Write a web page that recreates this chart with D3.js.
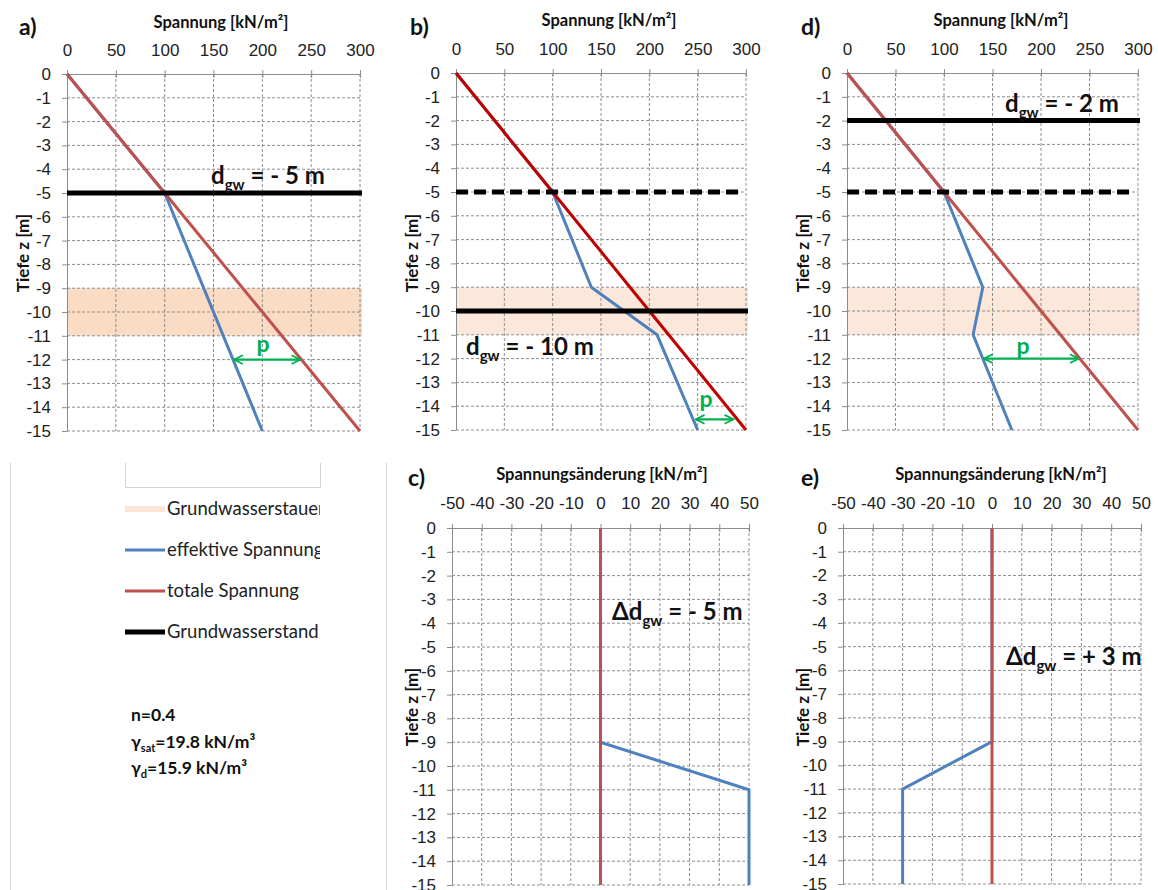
<!DOCTYPE html>
<html>
<head>
<meta charset="utf-8">
<script src="https://cdn.jsdelivr.net/npm/d3@7"></script>
<style>
  body { margin: 0; background: #fff; }
  svg { display: block; font-family: Lato, "Open Sans", sans-serif; }
  .tick text { font-size: 17px; fill: #222; }
</style>
</head>
<body>
<svg id="chart" width="1158" height="890"></svg>
<script>
// ---- data ----
var depthTicks = [0, -1, -2, -3, -4, -5, -6, -7, -8, -9, -10, -11, -12, -13, -14, -15];
var stressTicks = [0, 50, 100, 150, 200, 250, 300];
var changeTicks = [-50, -40, -30, -20, -10, 0, 10, 20, 30, 40, 50];

// a) dgw = -5 m
var depthA = [0, -5, -15];
var totalA = [0, 100, 300];
var effA = [0, 100, 200];
// b) dgw = -10 m
var depthB = [0, -5, -9, -11, -15];
var totalB = [0, 100, 180, 220, 300];
var effB = [0, 100, 140, 208, 250];
// d) dgw = -2 m
var depthD = [0, -5, -9, -11, -15];
var totalD = [0, 100, 180, 220, 300];
var effD = [0, 100, 140, 130, 170];
// c) / e) change of stress
var depthCE = [0, -9, -11, -15];
var dTotalC = [0, 0, 0, 0];
var dEffC = [0, 0, 50, 50];
var dTotalE = [0, 0, 0, 0];
var dEffE = [0, 0, -30, -30];

var aquitard = [-9, -11];            // Grundwasserstauer
var gwSolid = { a: -5, b: -10, d: -2 };
var gwOld = { b: -5, d: -5 };
// p arrows: [depth, from, to]
var arrowA = [-12, 170, 240];
var arrowB = [-14.55, 247, 288];
var arrowD = [-12, 140, 240];

var blue = "#4F81BD", red = "#C0504D", darkRed = "#C00000", green = "#00B050";
var gridCol = "#8c8c8c";

var svg = d3.select("#chart");

var defs = svg.append("defs");
defs.append("marker")
    .attr("id", "chev")
    .attr("viewBox", "0 0 10 10")
    .attr("refX", 9).attr("refY", 5)
    .attr("markerWidth", 5).attr("markerHeight", 5)
    .attr("markerUnits", "strokeWidth")
    .attr("orient", "auto-start-reverse")
    .append("path")
    .attr("d", "M1,1 L9,5 L1,9")
    .attr("fill", "none")
    .attr("stroke", green)
    .attr("stroke-width", 1.6);
defs.append("clipPath").attr("id", "legclip")
    .append("rect").attr("x", 0).attr("y", 440).attr("width", 320).attr("height", 220);

function zip(xs, ys) { return xs.map(function (v, i) { return [v, ys[i]]; }); }
function fmt(d) { return String(d); }   // plain hyphen minus like the original

function panel(o) {
    var x = d3.scaleLinear().domain(o.xdom).range(o.xr);
    var y = d3.scaleLinear().domain([0, -15]).range(o.yr);
    var g = svg.append("g");

    // aquitard band
    if (o.band) {
        g.append("rect")
            .attr("x", x(o.xdom[0])).attr("width", x(o.xdom[1]) - x(o.xdom[0]) + 2)
            .attr("y", y(aquitard[0])).attr("height", y(aquitard[1]) - y(aquitard[0]))
            .attr("fill", o.band);
    }

    // grid
    g.selectAll(".vg").data(o.xticks.slice(1)).enter().append("line")
        .attr("x1", function (d) { return x(d); }).attr("x2", function (d) { return x(d); })
        .attr("y1", o.yr[0]).attr("y2", o.yr[1])
        .attr("stroke", gridCol).attr("stroke-width", 1).attr("stroke-dasharray", "3,2");
    g.selectAll(".hg").data(depthTicks.slice(1)).enter().append("line")
        .attr("x1", o.xr[0]).attr("x2", o.xr[1])
        .attr("y1", function (d) { return y(d); }).attr("y2", function (d) { return y(d); })
        .attr("stroke", gridCol).attr("stroke-width", 1).attr("stroke-dasharray", "3,2");

    // axes
    var ya = g.append("g").attr("transform", "translate(" + o.xr[0] + ",0)")
        .call(d3.axisLeft(y).tickValues(depthTicks).tickSize(5).tickSizeOuter(0).tickPadding(11).tickFormat(fmt));
    ya.select(".domain").attr("stroke", gridCol);
    ya.selectAll(".tick line").attr("stroke", gridCol);
    var xa = g.append("g").attr("transform", "translate(0," + o.yr[0] + ")")
        .call(d3.axisTop(x).tickValues(o.xticks).tickSize(4).tickSizeOuter(0).tickPadding(14).tickFormat(fmt));
    xa.select(".domain").attr("stroke", gridCol);
    xa.selectAll(".tick line").attr("stroke", gridCol).attr("y2", 4).attr("y1", -4);
    xa.selectAll(".tick text").attr("dy", "0.35em").attr("y", o.xlabY - o.yr[0]);

    // lines
    var line = d3.line().x(function (d) { return x(d[0]); }).y(function (d) { return y(d[1]); });
    g.append("path").datum(zip(o.eff, o.depth)).attr("d", line)
        .attr("fill", "none").attr("stroke", blue).attr("stroke-width", 3).attr("stroke-linejoin", "round");
    g.append("path").datum(zip(o.total, o.depth)).attr("d", line)
        .attr("fill", "none").attr("stroke", o.red).attr("stroke-width", 3);

    // groundwater levels
    if (o.gwOld !== undefined) {
        g.append("line").attr("x1", o.xr[0]).attr("x2", o.xr[1] - 4)
            .attr("y1", y(o.gwOld)).attr("y2", y(o.gwOld))
            .attr("stroke", "#000").attr("stroke-width", 5).attr("stroke-dasharray", "12,6");
    }
    if (o.gw !== undefined) {
        g.append("line").attr("x1", o.xr[0]).attr("x2", o.xr[1] + 2)
            .attr("y1", y(o.gw)).attr("y2", y(o.gw))
            .attr("stroke", "#000").attr("stroke-width", 5);
    }

    // p arrow
    if (o.arrow) {
        g.append("line")
            .attr("x1", x(o.arrow[1]) + 1).attr("x2", x(o.arrow[2]) - 1)
            .attr("y1", y(o.arrow[0])).attr("y2", y(o.arrow[0]))
            .attr("stroke", green).attr("stroke-width", 2.2)
            .attr("marker-start", "url(#chev)").attr("marker-end", "url(#chev)");
        g.append("text").attr("x", o.pPos[0]).attr("y", o.pPos[1])
            .attr("text-anchor", "middle").attr("font-size", 23).attr("font-weight", "bold")
            .attr("fill", green).text("p");
    }

    // titles
    g.append("text").attr("x", o.titlePos[0]).attr("y", o.titlePos[1])
        .attr("text-anchor", "middle").attr("font-size", 16.5).attr("font-weight", "bold")
        .attr("fill", "#111").text(o.title);
    g.append("text").attr("x", o.letterPos[0]).attr("y", o.letterPos[1])
        .attr("font-size", 23).attr("font-weight", "bold").attr("fill", "#111").text(o.letter);
    g.append("text")
        .attr("transform", "translate(" + o.ytitle[0] + "," + o.ytitle[1] + ") rotate(-90)")
        .attr("text-anchor", "middle").attr("dy", "0.35em")
        .attr("font-size", 17).attr("font-weight", "bold").attr("fill", "#111").text("Tiefe z [m]");

    // dgw label
    var t = g.append("text").attr("x", o.lab[0]).attr("y", o.lab[1])
        .attr("font-size", 24).attr("font-weight", "bold").attr("fill", "#111");
    t.append("tspan").text(o.labPre);
    t.append("tspan").attr("font-size", 15).attr("dy", 6).text("gw");
    t.append("tspan").attr("dy", -6).text(o.labPost);
}

panel({ xdom: [0, 300], xr: [67, 360], yr: [74, 431], xticks: stressTicks, xlabY: 50,
    depth: depthA, total: totalA, eff: effA, red: red, band: "#FADCC4",
    gw: gwSolid.a, arrow: arrowA, pPos: [263, 352],
    title: "Spannung [kN/m²]", titlePos: [221, 28], letter: "a)", letterPos: [19, 35], ytitle: [23, 253],
    lab: [211, 184], labPre: "d", labPost: " = - 5 m" });

panel({ xdom: [0, 300], xr: [456, 746], yr: [73, 430], xticks: stressTicks, xlabY: 49,
    depth: depthB, total: totalB, eff: effB, red: darkRed, band: "#FCE8DA",
    gw: gwSolid.b, gwOld: gwOld.b, arrow: arrowB, pPos: [706, 407],
    title: "Spannung [kN/m²]", titlePos: [609, 26], letter: "b)", letterPos: [410, 35], ytitle: [412, 253],
    lab: [466, 355], labPre: "d", labPost: " = - 10 m" });

panel({ xdom: [0, 300], xr: [847, 1138], yr: [73, 430], xticks: stressTicks, xlabY: 49,
    depth: depthD, total: totalD, eff: effD, red: red, band: "#FCE8DA",
    gw: gwSolid.d, gwOld: gwOld.d, arrow: arrowD, pPos: [1023, 354],
    title: "Spannung [kN/m²]", titlePos: [1001, 26], letter: "d)", letterPos: [801, 35], ytitle: [803, 253],
    lab: [1005, 112], labPre: "d", labPost: " = - 2 m" });

panel({ xdom: [-50, 50], xr: [452, 749], yr: [528, 885], xticks: changeTicks, xlabY: 503,
    depth: depthCE, total: dTotalC, eff: dEffC, red: red,
    title: "Spannungsänderung [kN/m²]", titlePos: [602, 480], letter: "c)", letterPos: [408, 486], ytitle: [412, 707],
    lab: [612, 620], labPre: "Δd", labPost: " = - 5 m" });

panel({ xdom: [-50, 50], xr: [843, 1141], yr: [528, 884], xticks: changeTicks, xlabY: 503,
    depth: depthCE, total: dTotalE, eff: dEffE, red: red,
    title: "Spannungsänderung [kN/m²]", titlePos: [1001, 480], letter: "e)", letterPos: [801, 486], ytitle: [803, 707],
    lab: [1006, 665], labPre: "Δd", labPost: " = + 3 m" });

// ---- legend area ----
var frame = svg.append("g").attr("stroke", "#d4d4d4").attr("stroke-width", 1).attr("fill", "none");
frame.append("path").attr("d", "M10.5,463 V890 M386.5,463 V890 M125.5,463 V487.5 H320.5 V463");

var legendItems = [
    { name: "Grundwasserstauer", color: "#FBE5D6", w: 6 },
    { name: "effektive Spannung", color: blue, w: 3 },
    { name: "totale Spannung", color: red, w: 3 },
    { name: "Grundwasserstand", color: "#000", w: 5 }
];
var leg = svg.append("g").attr("clip-path", "url(#legclip)");
var li = leg.selectAll("g").data(legendItems).enter().append("g")
    .attr("transform", function (d, i) { return "translate(125," + (509 + i * 41) + ")"; });
li.append("line").attr("x1", 0).attr("x2", 40)
    .attr("stroke", function (d) { return d.color; })
    .attr("stroke-width", function (d) { return d.w; });
li.append("text").attr("x", 42).attr("dy", "0.35em")
    .attr("font-size", 18.5).attr("fill", "#222").text(function (d) { return d.name; });

var params = svg.append("g").attr("font-size", 17.5).attr("font-weight", "bold").attr("fill", "#111");
params.append("text").attr("x", 131).attr("y", 721).text("n=0.4");
var p1 = params.append("text").attr("x", 131).attr("y", 748);
p1.append("tspan").text("γ");
p1.append("tspan").attr("font-size", 11).attr("dy", 4).text("sat");
p1.append("tspan").attr("dy", -4).text("=19.8 kN/m³");
var p2 = params.append("text").attr("x", 131).attr("y", 774);
p2.append("tspan").text("γ");
p2.append("tspan").attr("font-size", 11).attr("dy", 4).text("d");
p2.append("tspan").attr("dy", -4).text("=15.9 kN/m³");
</script>
</body>
</html>
